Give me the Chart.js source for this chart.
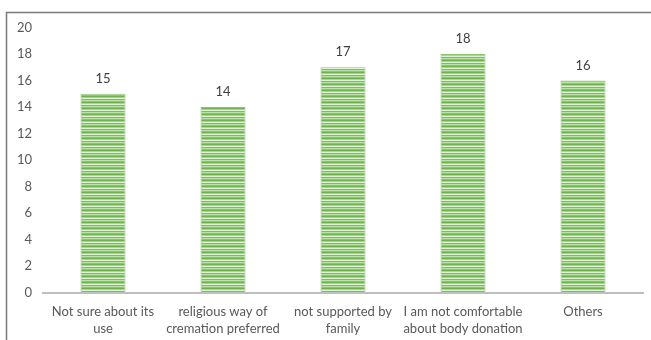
<!DOCTYPE html>
<html>
<head>
<meta charset="utf-8">
<script src="https://cdn.jsdelivr.net/npm/chart.js@4"></script>
<style>
  html, body { margin: 0; padding: 0; background: #fff; }
  #wrap { width: 651px; height: 340px; }
</style>
</head>
<body>
<div id="wrap"><canvas id="myChart" width="651" height="340"></canvas></div>
<script>
const categories = [
  ["Not sure about its", "use"],
  ["religious way of", "cremation preferred"],
  ["not supported by", "family"],
  ["I am not comfortable", "about body donation"],
  ["Others"],
];
const counts = [15, 14, 17, 18, 16];
const yTicks = [0, 2, 4, 6, 8, 10, 12, 14, 16, 18, 20];

const FONT = "Lato, 'Open Sans', sans-serif";

// striped green fill like the excel pattern fill
const makeStripes = () => {
  const c = document.createElement("canvas");
  c.width = 4;
  c.height = 6;
  const g = c.getContext("2d");
  const rows = ["#6db34c", "#a6d78f", "#dff1d5", "#7dbd5d", "#b9e0a6", "#8cc770"];
  rows.forEach((col, i) => {
    g.fillStyle = col;
    g.fillRect(0, i, 4, 1);
  });
  return g.createPattern(c, "repeat");
};

const frame = {
  id: "frame",
  beforeDraw(chart) {
    const ctx = chart.ctx;
    ctx.save();
    ctx.strokeStyle = "#7a7a7a";
    ctx.lineWidth = 1.5;
    ctx.beginPath();
    ctx.moveTo(6.5, 340);
    ctx.lineTo(6.5, 12.5);
    ctx.lineTo(651, 12.5);
    ctx.stroke();
    ctx.restore();
  },
};

const valueLabels = {
  id: "valueLabels",
  afterDatasetsDraw(chart) {
    const ctx = chart.ctx;
    const meta = chart.getDatasetMeta(0);
    ctx.save();
    ctx.fillStyle = "#404040";
    ctx.font = "13px " + FONT;
    ctx.textAlign = "center";
    ctx.textBaseline = "middle";
    meta.data.forEach((bar, i) => {
      ctx.fillText(String(counts[i]), bar.x, bar.y - 15);
    });
    ctx.restore();
  },
};

new Chart(document.getElementById("myChart"), {
  type: "bar",
  data: {
    labels: categories,
    datasets: [
      {
        data: counts,
        backgroundColor: makeStripes(),
        borderColor: "#8cc56f",
        borderWidth: 1,
        categoryPercentage: 1,
        barPercentage: 0.375,
      },
    ],
  },
  options: {
    responsive: false,
    animation: false,
    layout: { padding: { top: 27.5, right: 8, left: 0, bottom: 0 } },
    plugins: { legend: { display: false }, tooltip: { enabled: false } },
    scales: {
      x: {
        grid: { display: false, drawTicks: false },
        border: { display: true, color: "#bfbfbf", width: 2 },
        ticks: {
          color: "#595959",
          font: { family: FONT, size: 13, lineHeight: 1.3 },
          padding: 11,
          maxRotation: 0,
          autoSkip: false,
        },
        afterFit(scale) {
          scale.height = 47.5;
        },
      },
      y: {
        min: 0,
        max: 20,
        afterBuildTicks(scale) {
          scale.ticks = yTicks.map((v) => ({ value: v }));
        },
        grid: { display: false, drawTicks: false },
        border: { display: false },
        ticks: {
          color: "#595959",
          font: { family: FONT, size: 13 },
          padding: 11,
        },
        afterFit(scale) {
          scale.width = 43;
        },
      },
    },
  },
  plugins: [frame, valueLabels],
});
</script>
</body>
</html>
